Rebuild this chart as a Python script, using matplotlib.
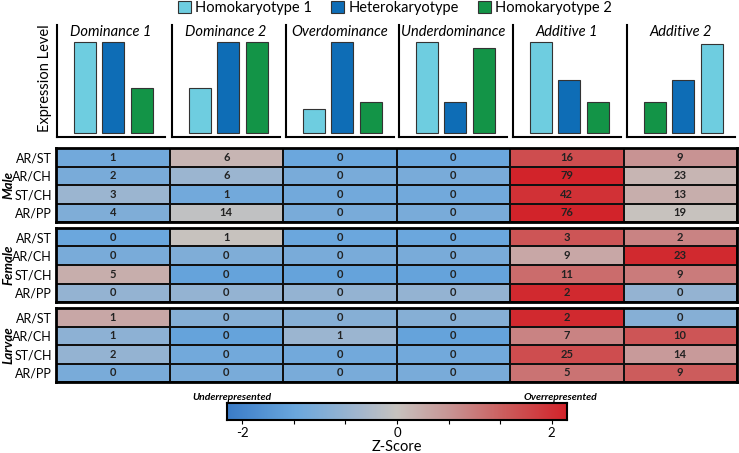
import numpy as np
import matplotlib
matplotlib.use('Agg')
from matplotlib import pyplot as plt
from matplotlib.colors import LinearSegmentedColormap
from matplotlib.patches import Patch

plt.rcParams['font.family'] = ['Lato', 'DejaVu Sans']

# bar cartoons: expression of homo1, hetero, homo2
patterns = ['Dominance 1', 'Dominance 2', 'Overdominance', 'Underdominance', 'Additive 1', 'Additive 2']
homo1 = [1.0, 0.5, 0.26, 1.0, 1.0, 0.98]
hetero = [1.0, 1.0, 1.0, 0.34, 0.58, 0.58]
homo2 = [0.5, 1.0, 0.34, 0.94, 0.34, 0.34]

rows = ['AR/ST', 'AR/CH', 'ST/CH', 'AR/PP']
groups = ['Male', 'Female', 'Larvae']

# gene counts shown in cells
male_n = [[1, 6, 0, 0, 16, 9],
          [2, 6, 0, 0, 79, 23],
          [3, 1, 0, 0, 42, 13],
          [4, 14, 0, 0, 76, 19]]
female_n = [[0, 1, 0, 0, 3, 2],
            [0, 0, 0, 0, 9, 23],
            [5, 0, 0, 0, 11, 9],
            [0, 0, 0, 0, 2, 0]]
larvae_n = [[1, 0, 0, 0, 2, 0],
            [1, 0, 1, 0, 7, 10],
            [2, 0, 0, 0, 25, 14],
            [0, 0, 0, 0, 5, 9]]

# z-scores
male_z = [[-1.2, 0.2, -1.3, -1.3, 1.6, 0.7],
          [-1.1, -0.6, -1.1, -1.1, 2.2, 0.2],
          [-0.6, -1.2, -1.2, -1.2, 2.0, 0.3],
          [-1.0, -0.1, -1.1, -1.1, 2.2, 0.0]]
female_z = [[-1.3, 0.0, -1.3, -1.3, 1.5, 0.9],
            [-1.1, -1.0, -1.1, -1.1, 0.4, 2.1],
            [0.3, -1.4, -1.4, -1.4, 1.2, 1.0],
            [-0.7, -0.7, -0.7, -0.7, 2.1, -0.7]]
larvae_z = [[0.4, -0.9, -0.9, -0.9, 2.1, -0.9],
            [-0.8, -1.4, -0.6, -1.4, 0.9, 1.5],
            [-0.7, -1.2, -1.2, -1.2, 1.6, 0.6],
            [-1.1, -1.1, -1.1, -1.1, 1.1, 1.4]]

c_homo1 = '#6ecde0'
c_het = '#0e6db6'
c_homo2 = '#139447'

cmap = LinearSegmentedColormap.from_list('zs', [
    (0.0, '#3b7cc8'), (0.2, '#6aa7dd'), (0.4, '#a6b8cd'), (0.5, '#c7c3bf'),
    (0.66, '#c89393'), (0.82, '#cc5c5c'), (1.0, '#d2232a')])
vmin, vmax = -2.2, 2.2

W, H = 739, 453
fig = plt.figure(figsize=(W / 100, H / 100), dpi=100)

def fr(x0, y0, x1, y1):
    return [x0 / W, 1 - y1 / H, (x1 - x0) / W, (y1 - y0) / H]

# --- top bar panels
lefts = [57, 172, 286, 399, 513, 627]
for i, name in enumerate(patterns):
    ax = fig.add_axes(fr(lefts[i], 25, lefts[i] + 108, 137))
    vals = [homo1[i], hetero[i], homo2[i]]
    cols = [c_homo1, c_het, c_homo2]
    if name == 'Additive 2':
        vals = vals[::-1]
        cols = cols[::-1]
    ax.bar([1, 2, 3], vals, width=0.78, color=cols, edgecolor='#333333', linewidth=0.8)
    ax.set_xlim(0.03, 3.81)
    ax.set_ylim(-0.044, 1.19)
    ax.set_xticks([])
    ax.set_yticks([])
    for s in ['top', 'right']:
        ax.spines[s].set_visible(False)
    for s in ['left', 'bottom']:
        ax.spines[s].set_linewidth(1.5)
    ax.text(0.5, 0.935, name, transform=ax.transAxes, ha='center', va='center',
            fontsize=10.5, style='italic')

fig.text(45 / W, 1 - 78 / H, 'Expression Level', rotation=90, ha='center', va='center', fontsize=10.5)

handles = [Patch(facecolor=c, edgecolor='#333333', linewidth=0.8) for c in [c_homo1, c_het, c_homo2]]
fig.legend(handles, ['Homokaryotype 1', 'Heterokaryotype', 'Homokaryotype 2'], ncol=3,
           loc='center', bbox_to_anchor=(395 / W, 1 - 8 / H), frameon=False, fontsize=10.5,
           handlelength=0.9, handleheight=0.9, handletextpad=0.3, columnspacing=1.3,
           borderpad=0, borderaxespad=0)

# --- heatmaps
tops = [148, 228, 308]
counts = [male_n, female_n, larvae_n]
zs = [male_z, female_z, larvae_z]
for g, name in enumerate(groups):
    ax = fig.add_axes(fr(56, tops[g], 737, tops[g] + 74))
    z = np.array(zs[g])
    n = np.array(counts[g])
    ax.pcolormesh(z, cmap=cmap, vmin=vmin, vmax=vmax, edgecolors='#111111', linewidth=1.3)
    for r in range(4):
        for c in range(6):
            ax.text(c + 0.5, r + 0.5, str(n[r, c]), ha='center', va='center', fontsize=8,
                    color='#222222', fontweight='bold')
    ax.set_xlim(0, 6)
    ax.set_ylim(4, 0)
    ax.set_xticks([])
    ax.set_yticks(np.arange(4) + 0.5)
    ax.set_yticklabels(rows, fontsize=9)
    ax.tick_params(axis='y', length=0, pad=3)
    for s in ax.spines.values():
        s.set_linewidth(2)
    fig.text(8 / W, 1 - (tops[g] + 37) / H, name, rotation=90, ha='center', va='center',
             fontsize=9.5, style='italic', fontweight='bold')

# --- colorbar
cax = fig.add_axes(fr(227, 403, 567, 420))
grad = np.linspace(vmin, vmax, 256).reshape(1, -1)
cax.imshow(grad, cmap=cmap, vmin=vmin, vmax=vmax, aspect='auto', extent=[vmin, vmax, 0, 1])
cax.set_yticks([])
cax.set_xticks([-2, 0, 2])
cax.set_xticklabels(['-2', '0', '2'], fontsize=9.5)
cax.set_xticks([-4 / 3, -2 / 3, 2 / 3, 4 / 3], minor=True)
cax.tick_params(axis='x', which='both', length=3, width=0.8, pad=2)
for s in cax.spines.values():
    s.set_linewidth(1.5)
fig.text(397 / W, 1 - 447 / H, 'Z-Score', ha='center', va='center', fontsize=10.5)
fig.text(232 / W, 1 - 397 / H, 'Underrepresented', ha='center', va='center', fontsize=7.5,
         style='italic', fontweight='bold')
fig.text(560 / W, 1 - 397 / H, 'Overrepresented', ha='center', va='center', fontsize=7.5,
         style='italic', fontweight='bold')

fig.savefig('out.png', dpi=100)
